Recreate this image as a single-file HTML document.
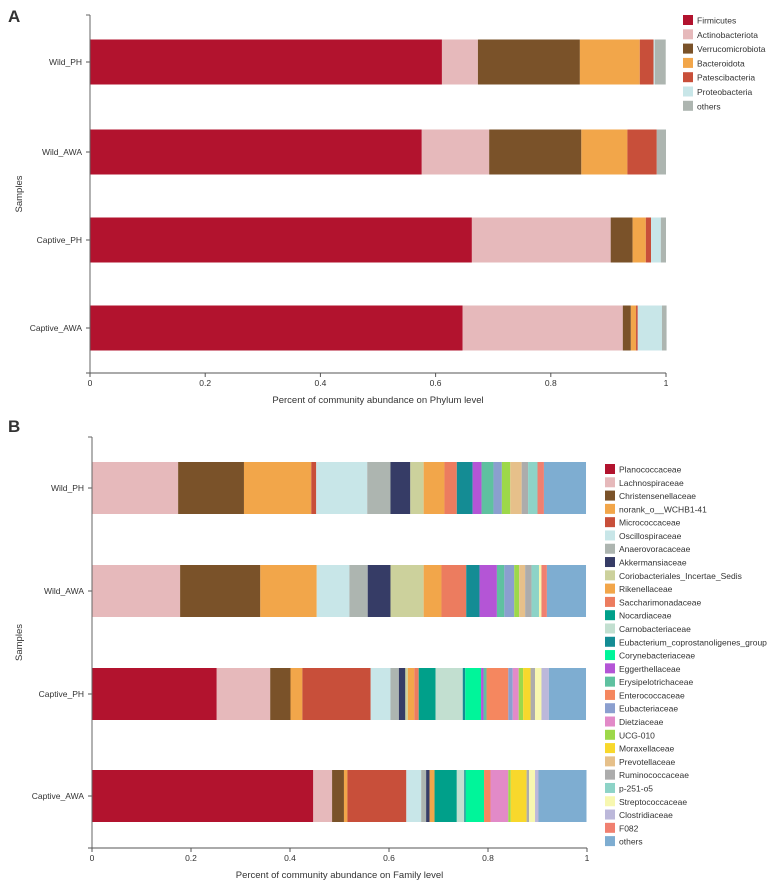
<!DOCTYPE html>
<html><head><meta charset="utf-8"><style>
html,body{margin:0;padding:0;background:#fff;}
svg{display:block;font-family:"Liberation Sans",sans-serif;}
text{fill:#333;}
</style></head><body>
<svg id="chart" width="767" height="880" viewBox="0 0 767 880"></svg>
<script>
const samples = ["Wild_PH","Wild_AWA","Captive_PH","Captive_AWA"];
const phyla = ["Firmicutes","Actinobacteriota","Verrucomicrobiota","Bacteroidota","Patescibacteria","Proteobacteria","others"];
const phylaColors = ["#b2132e","#e6b9bb","#7a5229","#f2a64a","#c84f3a","#c8e6e8","#adb5b0"];
const phylumWildPH = [0.611,0.0625,0.177,0.104,0.024,0.002,0.019];
const phylumWildAWA = [0.576,0.117,0.160,0.080,0.051,0.0,0.016];
const phylumCaptivePH = [0.663,0.241,0.038,0.023,0.009,0.017,0.009];
const phylumCaptiveAWA = [0.647,0.278,0.014,0.009,0.003,0.042,0.008];
const families = ["Planococcaceae","Lachnospiraceae","Christensenellaceae","norank_o__WCHB1-41","Micrococcaceae","Oscillospiraceae","Anaerovoracaceae","Akkermansiaceae","Coriobacteriales_Incertae_Sedis","Rikenellaceae","Saccharimonadaceae","Nocardiaceae","Carnobacteriaceae","Eubacterium_coprostanoligenes_group","Corynebacteriaceae","Eggerthellaceae","Erysipelotrichaceae","Enterococcaceae","Eubacteriaceae","Dietziaceae","UCG-010","Moraxellaceae","Prevotellaceae","Ruminococcaceae","p-251-o5","Streptococcaceae","Clostridiaceae","F082","others"];
const familyColors = ["#b2132e","#e6b9bb","#7a5229","#f2a64a","#c84f3a","#c8e6e8","#adb5b0","#363c66","#ccd19c","#f2a64a","#ec7c5f","#00a08a","#c2dfd0","#148c94","#00f59a","#b455d6","#5fc1a0","#f5875f","#8b9fcf","#e28ac8","#9dd84a","#f8d82c","#e6c08a","#acacac","#8dd3c7","#f7f7b0","#bcb8da","#f08070","#7eadd1"];
const familyWildPH = [0,0.174,0.133,0.136,0.010,0.103,0.047,0.040,0.027,0.042,0.025,0,0,0.032,0,0.018,0.024,0,0.017,0,0.017,0,0.023,0.013,0.019,0,0,0.013,0.085];
const familyWildAWA = [0,0.178,0.162,0.114,0,0.066,0.037,0.046,0.067,0.036,0.050,0,0,0.027,0,0.035,0.015,0,0.020,0,0.010,0,0.012,0.013,0.015,0.005,0,0.011,0.079];
const familyCaptivePH = [0.252,0.108,0.041,0.024,0.138,0.040,0.017,0.013,0.005,0.013,0.009,0.034,0.055,0.005,0.032,0.005,0.006,0.044,0.009,0.012,0.009,0.015,0,0.009,0,0.013,0.015,0,0.075];
const familyCaptiveAWA = [0.447,0.038,0.024,0.007,0.119,0.030,0.010,0.007,0,0.010,0,0.045,0.015,0.003,0.037,0,0,0.013,0,0.036,0.005,0.032,0,0.005,0,0.012,0.007,0,0.097];
const xTicks = [0,0.2,0.4,0.6,0.8,1];
const xTickLabels = ["0","0.2","0.4","0.6","0.8","1"];

const NS="http://www.w3.org/2000/svg";
const svg=document.getElementById('chart');
function mk(tag,attrs,parent,txt){const e=document.createElementNS(NS,tag);for(const k in attrs)e.setAttribute(k,attrs[k]);if(txt!==undefined)e.textContent=txt;(parent||svg).appendChild(e);return e;}

function panel(cfg){
  const g=mk('g',{});
  
  
  const xs=v=>cfg.x0+v*(cfg.x1-cfg.x0);
  const lbl=mk('text',{x:8,y:cfg.letterY,'font-size':17,'font-weight':'bold',fill:'#000'},g,cfg.letter);
  
  
  cfg.series.forEach((vals,i)=>{
    const yc=cfg.rowY[i];
    const bg=mk('g',{},g);
    
    
    let acc=0;
    vals.forEach((v,j)=>{
      if(v<=0)return;
      const r=mk('rect',{x:xs(acc),y:yc-cfg.barH/2,width:Math.max(0,xs(acc+v)-xs(acc)),height:cfg.barH,fill:cfg.colors[j]},bg);
      
      
      acc+=v;
    });
    mk('line',{x1:cfg.x0-4,x2:cfg.x0,y1:yc,y2:yc,stroke:'#555'},g);
    const t=mk('text',{x:cfg.x0-8,y:yc+3,'font-size':8.5,'text-anchor':'end',fill:'#444'},g,samples[i]);
    
    
  });
  const ya=mk('line',{x1:cfg.x0,x2:cfg.x0,y1:cfg.yTop,y2:cfg.yBot,stroke:'#666'},g);
  
  
  mk('line',{x1:cfg.x0-4,x2:cfg.x0,y1:cfg.yTop,y2:cfg.yTop,stroke:'#666'},g);
  const xa=mk('line',{x1:cfg.x0-4,x2:cfg.x1,y1:cfg.yBot,y2:cfg.yBot,stroke:'#555'},g);
  
  
  xTicks.forEach((v,i)=>{
    mk('line',{x1:xs(v),x2:xs(v),y1:cfg.yBot,y2:cfg.yBot+4,stroke:'#555'},g);
    const t=mk('text',{x:xs(v),y:cfg.yBot+13,'font-size':8.5,'text-anchor':'middle',fill:'#444'},g,xTickLabels[i]);
    
    
  });
  const xt=mk('text',{x:(cfg.x0+cfg.x1)/2,y:cfg.yBot+30,'font-size':9.5,'text-anchor':'middle',fill:'#333'},g,cfg.xTitle);
  
  
  const ymid=(cfg.yTop+cfg.yBot)/2;
  const yt=mk('text',{x:22,y:ymid,'font-size':9.5,'text-anchor':'middle',fill:'#333',transform:`rotate(-90 22 ${ymid})`},g,'Samples');
  
  
  const lg=mk('g',{},g);
  
  
  cfg.cats.forEach((c,j)=>{
    const y=cfg.legY0+j*cfg.legDy;
    const e=mk('g',{},lg);
    
    
    mk('rect',{x:cfg.legX,y:y-5,width:10,height:10,fill:cfg.colors[j]},e);
    mk('text',{x:cfg.legX+14,y:y+3.5,'font-size':8.5,fill:'#444'},e,c);
  });
}
panel({name:'phylum-chart',letter:'A',letterY:22,x0:90,x1:666,yTop:15,yBot:373,rowY:[62,152,240,328],barH:45,
  series:[phylumWildPH,phylumWildAWA,phylumCaptivePH,phylumCaptiveAWA],cats:phyla,colors:phylaColors,
  xTitle:'Percent of community abundance on Phylum level',legX:683,legY0:20,legDy:14.3});
panel({name:'family-chart',letter:'B',letterY:432,x0:92,x1:587,yTop:437,yBot:848,rowY:[488,591,694,796],barH:52,
  series:[familyWildPH,familyWildAWA,familyCaptivePH,familyCaptiveAWA],cats:families,colors:familyColors,
  xTitle:'Percent of community abundance on Family level',legX:605,legY0:469,legDy:13.29});
</script>
</body></html>
